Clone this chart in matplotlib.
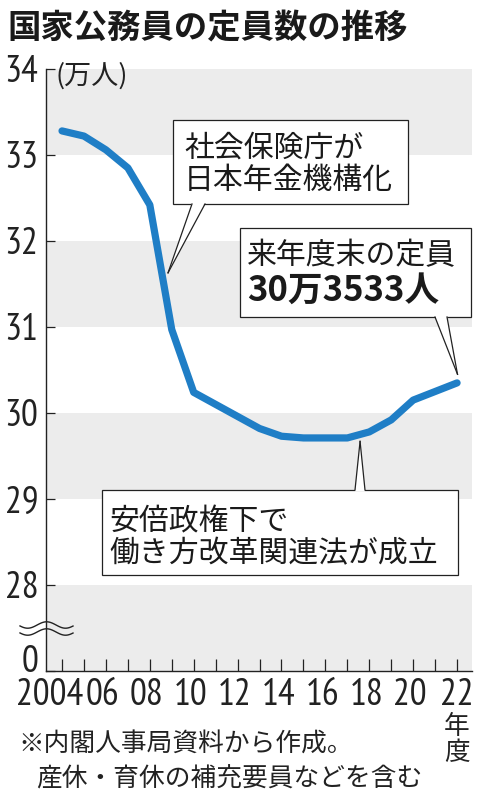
import matplotlib
matplotlib.use("Agg")
import matplotlib.pyplot as plt
from matplotlib import font_manager
from matplotlib.patches import Rectangle, Polygon
from matplotlib.lines import Line2D
from matplotlib.transforms import ScaledTranslation
import numpy as np

# ---------------- data ----------------
years = list(range(2004, 2023))
staff = [33.28, 33.22, 33.06, 32.85, 32.42, 30.97, 30.24, 30.10, 29.96, 29.82,
         29.73, 29.71, 29.71, 29.71, 29.78, 29.92, 30.15, 30.25, 30.35]
ytick_vals = [27, 28, 29, 30, 31, 32, 33, 34]
ytick_labels = ["0", "28", "29", "30", "31", "32", "33", "34"]
xtick_vals = [2004, 2006, 2008, 2010, 2012, 2014, 2016, 2018, 2020, 2022]
xtick_labels = ["2004", "06", "08", "10", "12", "14", "16", "18", "20", "22"]
title = "国家公務員の定員数の推移"
unit = "(万人)"
note1 = "社会保険庁が\n日本年金機構化"
note2a = "来年度末の定員"
note2b = "30万3533人"
note3 = "安倍政権下で\n働き方改革関連法が成立"
src1 = "※内閣人事局資料から作成。"
src2 = "産休・育休の補充要員などを含む"

# ---------------- fonts ----------------
names = {f.name for f in font_manager.fontManager.ttflist}
JP = ["Noto Sans CJK JP", "DejaVu Sans"]
cands = ["PT Sans Narrow", "Roboto Condensed", "Fira Sans Condensed",
         "Archivo Narrow", "Liberation Sans Narrow", "Open Sans Condensed", "Liberation Sans"]
NUM = [next(c for c in cands if c in names)]
plt.rcParams["font.family"] = JP

W, H = 484, 800
fig = plt.figure(figsize=(W / 100, H / 100), dpi=100)
fig.patch.set_facecolor("white")

def fx(px):
    return px / W

def fy(py):
    return 1 - py / H

ax_l, ax_r, ax_t, ax_b = 46, 472, 69, 671
ax = fig.add_axes([fx(ax_l), fy(ax_b), (ax_r - ax_l) / W, (ax_b - ax_t) / H])
ax.set_facecolor("white")
ax.set_xlim(2003.27, 2022.68)
ax.set_ylim(27, 34)

for lo in (27, 29, 31, 33):
    ax.axhspan(lo, lo + 1, color="#ececec", lw=0, zorder=0)

ax.plot(years, staff, color="#1f7ec6", lw=5.2, solid_capstyle="round",
        solid_joinstyle="round", zorder=3)

for s in ("top", "right"):
    ax.spines[s].set_visible(False)
for s in ("left", "bottom"):
    ax.spines[s].set_linewidth(1.0)
    ax.spines[s].set_color("#222222")

ax.set_yticks(ytick_vals)
ax.set_yticklabels(ytick_labels, fontfamily=NUM, fontsize=27, fontweight="normal",
                   color="#222222")
ax.tick_params(axis="y", direction="in", length=6.5, width=0.9, pad=5.5, colors="#222222")
ax.set_xticks(years)
ax.set_xticklabels([])
ax.tick_params(axis="x", direction="in", length=9, width=0.9, colors="#222222")

# shift "0" label up slightly
lab0 = ax.get_yticklabels()[0]
lab0.set_transform(lab0.get_transform() + ScaledTranslation(0, 12 / 100, fig.dpi_scale_trans))

# x labels
for xv, xl in zip(xtick_vals, xtick_labels):
    dx = -12 if xl == "2004" else (-3 if xl != "22" else 0)
    ax.annotate(xl, xy=(xv, 27), xycoords="data", xytext=(dx * 0.72, -5),
                textcoords="offset points", ha="center", va="top",
                fontfamily=NUM, fontsize=27, fontweight="normal", color="#222222",
                annotation_clip=False)

# title, unit
fig.text(fx(7), fy(29), title, fontsize=24, fontweight="bold", ha="left", va="center",
         color="#1a1a1a")
fig.text(fx(55), fy(76), unit, fontsize=19.5, ha="left", va="center", color="#222222")

# "年度" vertical
fig.text(fx(457), fy(727), "年", fontsize=18.5, ha="center", va="center", color="#222222")
fig.text(fx(457), fy(753), "度", fontsize=18.5, ha="center", va="center", color="#222222")

# source notes
fig.text(fx(18), fy(745), src1, fontsize=18.5, ha="left", va="center", color="#222222")
fig.text(fx(36), fy(779), src2, fontsize=18.5, ha="left", va="center", color="#222222")

# axis break wave
t = np.linspace(0, 1, 100)
for yoff in (625, 632):
    xs = 20 + 53 * t
    ys = yoff + 3.2 * np.sin(2 * np.pi * 1.4 * t + 0.3)
    fig.add_artist(Line2D(fx(xs), fy(ys), color="#222222", lw=1.0))

# ---------------- callouts ----------------
def callout(box, base, tip_data, side):
    x0, y0, x1, y1 = box  # pixels
    rect = Rectangle((fx(x0), fy(y1)), fx(x1) - fx(x0), fy(y0) - fy(y1),
                     transform=fig.transFigure, facecolor="white",
                     edgecolor="#222222", lw=0.9, zorder=5)
    fig.add_artist(rect)
    tip_disp = ax.transData.transform(tip_data)
    tip_fig = fig.transFigure.inverted().transform(tip_disp)
    by = y1 if side == "bottom" else y0
    inset = -1.5 if side == "bottom" else 1.5
    b1 = (fx(base[0]), fy(by + inset))
    b2 = (fx(base[1]), fy(by + inset))
    poly = Polygon([b1, tuple(tip_fig), b2], closed=True, transform=fig.transFigure,
                   facecolor="white", edgecolor="none", zorder=6)
    fig.add_artist(poly)
    e1 = (fx(base[0]), fy(by))
    e2 = (fx(base[1]), fy(by))
    for e in (e1, e2):
        fig.add_artist(Line2D([e[0], tip_fig[0]], [e[1], tip_fig[1]],
                              color="#222222", lw=0.9, zorder=7))

callout((173, 120, 408, 204), (192, 205), (2008.83, 31.63), "bottom")
callout((240, 228, 471, 317), (435, 447), (2022.02, 30.45), "bottom")
callout((102, 490, 458, 575), (355, 365), (2017.58, 29.67), "top")

fig.text(fx(184), fy(164), note1, fontsize=21.5, ha="left", va="center",
         linespacing=1.05, color="#1a1a1a", zorder=8)
fig.text(fx(247), fy(256), note2a, fontsize=21.5, ha="left", va="center",
         color="#1a1a1a", zorder=8)
fig.text(fx(247), fy(290), note2b, fontsize=25, fontweight="bold", ha="left",
         va="center", color="#1a1a1a", zorder=8)
fig.text(fx(109), fy(538), note3, fontsize=21.5, ha="left", va="center",
         linespacing=1.05, color="#1a1a1a", zorder=8)

fig.savefig("out.png", dpi=100, facecolor="white")
